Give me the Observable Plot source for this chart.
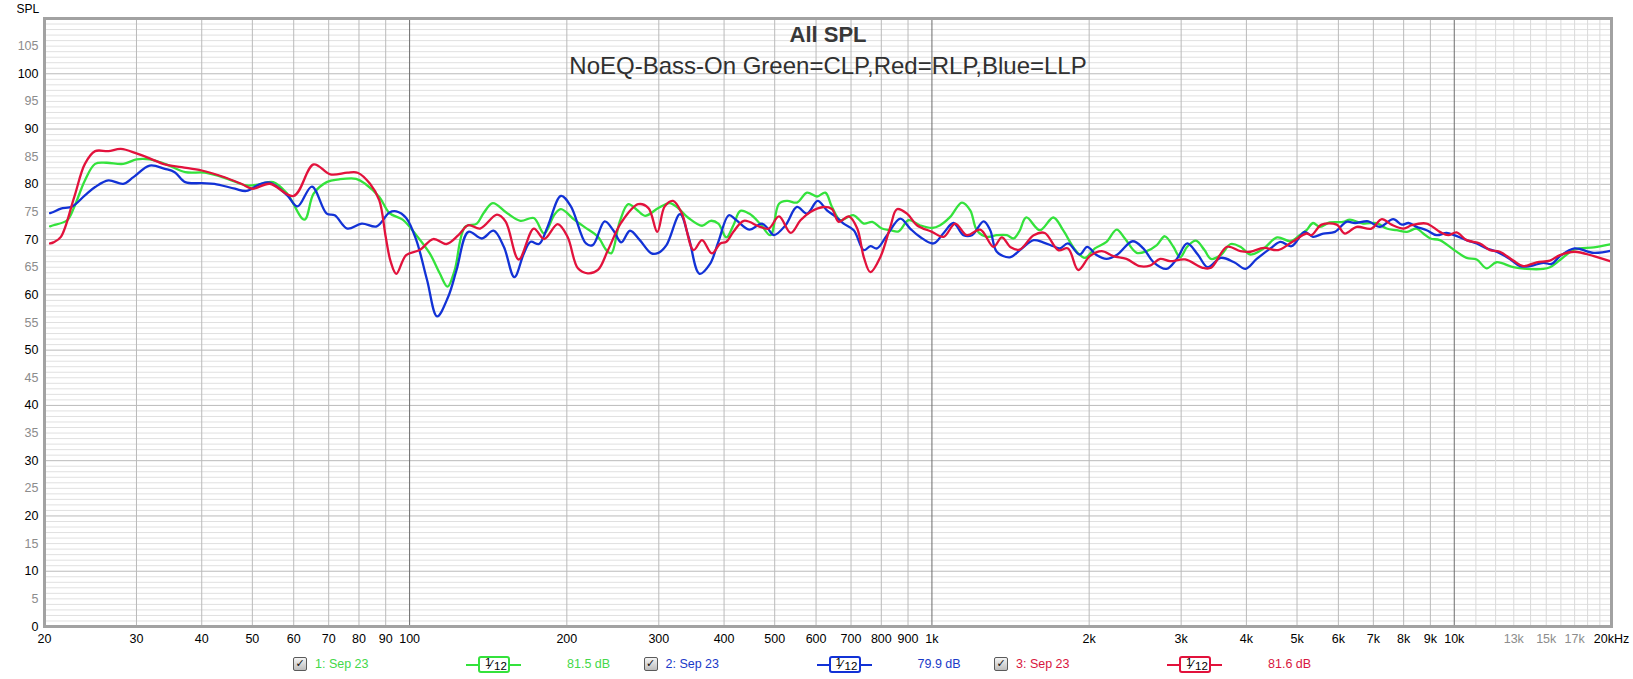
<!DOCTYPE html>
<html>
<head>
<meta charset="utf-8">
<script src="https://cdn.jsdelivr.net/npm/d3@7"></script>
<script src="https://cdn.jsdelivr.net/npm/@observablehq/plot@0.6"></script>
<style>
  body { margin: 0; background: #fff; }
  #wrap { position: relative; width: 1633px; height: 679px; font-family: "Liberation Sans", Arial, sans-serif; overflow: hidden; }
  #chart { position: absolute; left: 0; top: 0; }
  .lg { position: absolute; font-size: 12.5px; line-height: 14px; white-space: nowrap; }
  .cb { position: absolute; width: 12px; height: 12px; border: 1px solid #5a5a5a; border-radius: 2px;
        background: linear-gradient(#f4f4f4, #bdbdbd); font-size: 11px; line-height: 12px; text-align: center; color: #111; font-weight: bold; font-family: "DejaVu Sans", sans-serif; }
  .wl { position: absolute; height: 2px; }
  .wb { position: absolute; width: 28px; height: 13px; border: 2px solid; border-radius: 3px; background: #fff;
        font-size: 11.5px; color: #000; font-family: "Liberation Sans", Arial, sans-serif; }
</style>
</head>
<body>
<div id="wrap"><div id="chart"></div></div>
<script>
// ---------- data (frequency in Hz, SPL in dB) ----------
const greenFreq = [20.5,20.8,22.1,22.8,23.9,25.0,26.3,28.3,30.0,31.8,34.0,37.2,40.6,44.8,48.7,51.6,54.8,58.3,62.9,65.5,69.4,73.3,79.0,82.2,87.5,91.5,97,103,109.3,114.2,118.2,122,127.7,134.5,138.6,144.3,153.6,163,172.9,181,189.3,194.9,206.6,216,229.4,238,243.3,252.6,262.2,272.2,282.4,299.4,314.8,326.6,342,363,377,390,404,416.8,429.8,446.9,468.7,490.8,509.6,528.4,551.5,576.6,602.6,625,643.7,668,688.3,708.5,740.7,769,802,832.5,863.4,902.4,948.2,1000,1037,1084,1141,1184,1219,1274,1331,1392,1433,1470,1516,1609,1708,1783,1882,1963,2051,2159,2258,2341,2466,2576,2695,2792,2899,2987,3081,3201,3325,3422,3572,3733,3897,4071,4318,4580,4860,5059,5214,5365,5530,5775,6126,6311,6691,7103,7420,7755,8118,8469,8723,9000,9382,10000,10559,11037,11534,12052,12970,13755,14805,15250,15940,17000,18500,20000];
const greenSPL  = [72.4,72.6,73.5,75.9,80.7,83.7,83.9,83.7,84.5,84.5,83.7,82.2,82.1,81.0,79.8,80.0,80.4,78.3,73.6,78.3,80.4,80.9,81.0,80.1,77.7,74.8,73.6,70.8,67.5,63.9,61.5,64.5,72.3,72.9,74.8,76.6,74.8,73.4,73.9,71.1,74.5,75.5,73.6,72.3,70.5,68.1,67.5,73.3,76.4,75.4,74.3,75.7,76.6,75.7,73.9,72.5,73.4,72.9,70.4,72.6,75.2,74.7,72.9,70.8,76.5,77.0,76.7,78.5,77.8,78.5,75.9,73.5,74.0,74.4,72.9,73.2,72.0,71.7,71.5,73.5,72.6,72.1,72.6,74.1,76.7,75.3,71.7,70.5,70.8,70.8,70.2,71.5,74.0,71.7,74.0,71.7,68.1,66.7,68.4,69.6,71.8,70.2,67.6,67.9,69.0,70.6,68.7,66.8,68.7,69.8,68.1,66.5,67.2,69.2,68.7,67.3,68.4,70.4,69.7,70.8,71.7,73.0,72.3,73.1,73.2,73.6,72.9,73.0,72.0,71.7,71.4,72.0,71.1,70.2,69.9,68.1,66.7,66.4,64.8,65.9,65.0,64.7,64.7,65.0,66.3,68.2,68.6,69.2];

const blueFreq = [20.5,20.8,21.5,22.6,23.9,25.0,26.5,28.3,29.6,31.8,34.0,35.5,37.2,40.0,42.3,46.3,48.7,51.6,54.0,58.3,61.0,65.0,69.4,71.9,76.0,81.0,86.5,91.5,94.3,98.5,103,108,112.9,118.6,123,129.6,137.5,144.8,151.5,158.7,165.5,170.5,176.9,183.7,194.9,203.6,217.6,224.2,236.3,245.4,254.3,264.2,275.9,290.4,299.4,310.3,329.4,342,359,376,390,408.6,421.3,446.9,472.4,485,498.3,524.5,551.5,576.6,604.3,629.5,653,677.5,708.5,740.7,762.5,785,820.5,869.6,908.5,948.2,1007,1053,1100,1149,1193,1256,1293,1331,1410,1474,1566,1632,1708,1758,1822,1918,1983,2066,2159,2258,2423,2539,2657,2812,2943,3081,3228,3373,3572,3789,3984,4186,4448,4646,4879,5170,5365,5614,5910,6218,6457,6845,7203,7640,7940,8175,8469,8853,9250,9667,10000,10559,11037,11534,12052,12775,13360,13958,14805,15360,15940,17000,18500,20000];
const blueSPL  = [74.8,75.0,75.6,76.0,78.0,79.5,80.7,80.1,81.3,83.4,82.8,82.2,80.4,80.2,80.1,79.2,78.8,80.0,80.3,78.0,76.0,79.6,74.7,74.4,72.0,72.9,72.4,74.9,75.1,73.9,69.9,62.7,56.1,59.7,64.5,71.4,70.2,71.6,68.7,63.2,67.5,69.6,69.2,72.3,77.9,76.0,69.3,69.0,73.3,71.7,69.5,71.6,69.9,67.5,67.6,69.0,74.6,70.5,63.8,65.6,69.6,74.4,73.6,71.8,72.9,72.0,70.8,72.6,75.9,74.7,77.0,75.3,74.2,72.9,71.7,68.1,68.8,68.4,70.8,73.8,72.0,70.5,69.3,71.2,73.0,70.8,70.8,73.3,71.7,67.8,66.8,68.1,69.9,69.5,68.8,68.4,69.3,67.3,68.7,67.2,66.5,67.2,69.7,68.4,65.9,64.7,66.5,69.3,67.3,65.0,66.7,65.9,64.7,66.5,68.4,69.6,68.8,71.4,70.5,71.1,71.4,73.2,73.0,73.3,72.3,73.7,72.7,73.0,72.3,71.7,70.8,71.2,70.8,69.9,69.3,68.4,67.8,66.5,65.2,65.2,65.8,65.6,67.0,68.4,67.6,68.0];

const redFreq = [20.5,20.8,21.5,22.8,23.9,25.0,26.5,28.0,30.0,31.8,34.0,36.6,40.0,43.5,47.6,50.0,54.0,60.0,65.5,70.5,76.0,79.5,84.0,87.5,90.0,92.0,94.3,98.5,104.5,111,117.7,124,129.6,136.5,147,152.6,161.8,172.9,181,192.1,200.6,210,219.3,229.4,239.8,254.3,273.9,286.6,298,307.9,319.4,331.9,349.7,363,379,393.5,404,416.8,436.5,468.7,487.4,509.6,536.7,560.2,585.2,620.3,643.7,663,693.3,719.5,740.7,762.5,796.3,832.5,857,896,936,1000,1053,1108,1166.5,1237.5,1312,1361,1415,1472,1566,1644,1745,1822,1906,2006,2113,2225,2357,2500,2614,2736,2856,3053,3298,3422,3673,3897,4071,4318,4600,4900,5214,5327,5572,5957,6172,6503,6942,7267,7583,8000,8287,8853,9382,9738,10103,10559,11199,11704,12225,12970,13560,14377,15250,15940,17000,18500,20000];
const redSPL  = [69.3,69.5,70.5,77.7,83.7,86.0,86.0,86.4,85.6,84.7,83.6,83.1,82.5,81.5,80.1,79.2,80.1,77.9,83.6,81.8,82.1,82.1,80.1,77.1,70.5,66.0,63.8,67.2,68.1,70.1,69.2,70.8,72.6,72.0,74.5,73.3,66.4,72.0,70.1,72.8,70.5,64.8,63.9,64.5,68.1,73.1,76.4,75.7,71.4,76.0,77.0,74.8,68.1,69.9,67.5,69.3,69.6,71.4,73.4,72.3,72.0,74.2,71.2,73.5,75.0,75.9,75.5,73.2,74.2,72.0,66.8,64.1,66.8,72.3,75.5,74.7,72.6,71.4,70.5,72.9,70.8,71.8,68.7,70.4,68.6,68.2,70.8,71.2,68.1,68.4,64.5,67.0,67.9,67.0,66.5,65.2,65.3,66.5,66.1,66.4,64.9,64.9,68.7,67.9,67.8,68.5,68.1,69.6,71.1,70.8,72.7,72.7,71.1,72.3,72.0,73.7,72.7,72.0,72.6,72.9,71.4,70.8,71.3,69.9,69.3,68.1,67.8,66.2,65.2,65.9,66.2,67.2,67.8,67.0,66.0];

// ---------- ticks / labels ----------
const yBlackTicks = [0,10,20,30,40,50,60,70,80,90,100];
const yGrayTicks  = [5,15,25,35,45,55,65,75,85,95,105];
const xBlackTicks = [20,30,40,50,60,70,80,90,100,200,300,400,500,600,700,800,900,1000,2000,3000,4000,5000,6000,7000,8000,9000,10000,20000];
const xBlackLabels = ["20","30","40","50","60","70","80","90","100","200","300","400","500","600","700","800","900","1k","2k","3k","4k","5k","6k","7k","8k","9k","10k","20kHz"];
const xGrayTicks  = [13000,15000,17000];
const xGrayLabels = ["13k","15k","17k"];

// grid positions
const xGridMinor  = [30,40,50,60,70,80,90,200,300,400,500,600,700,800,900,2000,3000,4000,5000,6000,7000,8000,9000];
const xGridDecade = [100,1000,10000];
const xGridFaint  = [11000,12000,13000,14000,15000,16000,17000,18000,19000];
const yGridFine   = d3.range(1, 110, 1).filter(v => v % 10 !== 0);
const yGridTen    = [10,20,30,40,50,60,70,80,90,100];

const titleText = "All SPL";
const subtitleText = "NoEQ-Bass-On Green=CLP,Red=RLP,Blue=LLP";

const seriesColors = ["#34e23c", "#1232d6", "#e2123c"];
const legendTextColors = ["#44d84a", "#1a3ac8", "#d8163e"];
const legendNames = ["1: Sep 23", "2: Sep 23", "3: Sep 23"];
const legendLevels = ["81.5 dB", "79.9 dB", "81.6 dB"];

const toRows = (fs, vs) => fs.map((f, i) => ({f, db: vs[i]}));
const green = toRows(greenFreq, greenSPL);
const blue = toRows(blueFreq, blueSPL);
const red = toRows(redFreq, redSPL);

const blackMap = new Map(xBlackTicks.map((t, i) => [t, xBlackLabels[i]]));
const grayMap = new Map(xGrayTicks.map((t, i) => [t, xGrayLabels[i]]));

const chart = Plot.plot({
  width: 1633,
  height: 652,
  marginLeft: 44,
  marginRight: 22,
  marginTop: 18,
  marginBottom: 26,
  style: {fontFamily: "'Liberation Sans', Arial, sans-serif", fontSize: "12.5px", background: "#fff", overflow: "visible"},
  x: {type: "log", domain: [20, 20000], axis: null},
  y: {domain: [0, 110], axis: null},
  marks: [
    Plot.ruleY(yGridFine, {stroke: "#e0e0e0", strokeWidth: 1}),
    Plot.ruleY(yGridTen, {stroke: "#bababa", strokeWidth: 1}),
    Plot.ruleX(xGridFaint, {stroke: "#dadada", strokeWidth: 1}),
    Plot.ruleX(xGridMinor, {stroke: "#bababa", strokeWidth: 1}),
    Plot.ruleX(xGridDecade, {stroke: "#6c6c6c", strokeWidth: 1}),
    Plot.text([titleText], {text: d => d, frameAnchor: "top", lineAnchor: "bottom", dy: 23, fontSize: 22, fontWeight: "bold", fill: "#383838"}),
    Plot.text([subtitleText], {text: d => d, frameAnchor: "top", lineAnchor: "bottom", dy: 55, fontSize: 24, fill: "#303030"}),
    Plot.line(green, {x: "f", y: "db", stroke: seriesColors[0], strokeWidth: 2.3, curve: "catmull-rom"}),
    Plot.line(blue, {x: "f", y: "db", stroke: seriesColors[1], strokeWidth: 2.3, curve: "catmull-rom"}),
    Plot.line(red, {x: "f", y: "db", stroke: seriesColors[2], strokeWidth: 2.3, curve: "catmull-rom"}),
    Plot.frame({stroke: "#a2a2a2", strokeWidth: 3}),
    Plot.text(yBlackTicks, {y: d => d, text: d => String(d), frameAnchor: "left", textAnchor: "end", dx: -6, fill: "#000"}),
    Plot.text(yGrayTicks, {y: d => d, text: d => String(d), frameAnchor: "left", textAnchor: "end", dx: -6, fill: "#8c8c8c"}),
    Plot.text(xBlackTicks, {x: d => d, text: d => blackMap.get(d), frameAnchor: "bottom", lineAnchor: "top", dy: 8, fill: "#000"}),
    Plot.text(xGrayTicks, {x: d => d, text: d => grayMap.get(d), frameAnchor: "bottom", lineAnchor: "top", dy: 8, fill: "#8c8c8c"}),
    Plot.text(["SPL"], {text: d => d, frameAnchor: "top-left", textAnchor: "start", lineAnchor: "bottom", dx: -28, dy: -6, fontSize: 12, fill: "#000"})
  ]
});
document.getElementById("chart").appendChild(chart);

// ---------- legend ----------
const wrap = document.getElementById("wrap");
function add(cls, left, top, html, style) {
  const el = document.createElement("div");
  el.className = cls;
  el.style.left = left + "px";
  el.style.top = top + "px";
  if (style) Object.assign(el.style, style);
  el.innerHTML = html;
  wrap.appendChild(el);
}
legendNames.forEach((name, i) => {
  const off = 350.5 * i;
  add("cb", 293 + off, 657, "&#10003;");
  add("lg", 315 + off, 657, name, {color: legendTextColors[i]});
  add("wl", 466 + off, 664, "", {width: "55px", background: seriesColors[i]});
  add("wb", 478 + off, 656, '<span style="position:absolute;left:5px;top:-2px">1</span><span style="position:absolute;left:10px;top:-1px;font-size:13px">&#8260;</span><span style="position:absolute;left:14px;top:2px">12</span>', {borderColor: seriesColors[i]});
  add("lg", 567 + off, 657, legendLevels[i], {color: legendTextColors[i]});
});
</script>
</body>
</html>
